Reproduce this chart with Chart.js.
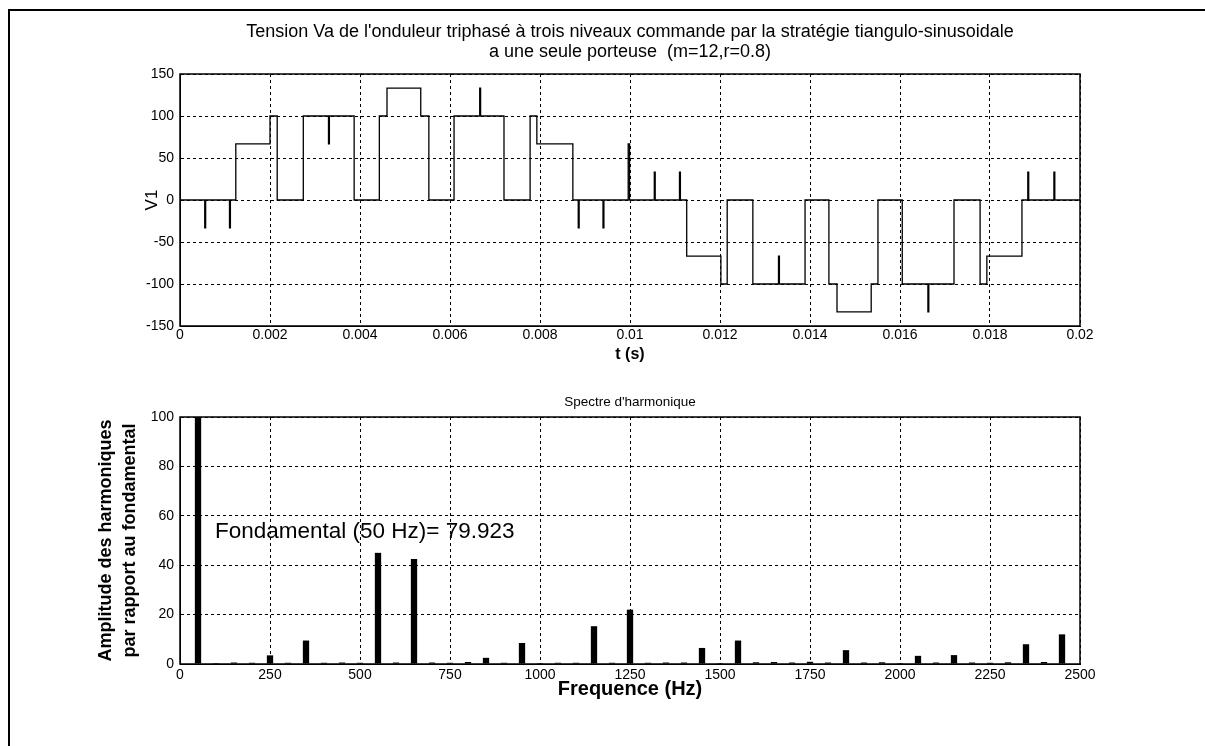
<!DOCTYPE html>
<html>
<head>
<meta charset="utf-8">
<script src="https://cdn.jsdelivr.net/npm/chart.js@4.4.1/dist/chart.umd.min.js"></script>
<style>
  body { margin: 0; background: #fff; overflow: hidden; }
  #cadre { position: absolute; left: 8px; top: 9px; width: 1300px; height: 800px; border-left: 2px solid #000; border-top: 2px solid #000; }
  canvas { position: absolute; left: 0; }
  #c1 { top: 0; }
  #c2 { top: 370px; }
</style>
</head>
<body>
<div id="cadre"></div>
<canvas id="c1" width="1205" height="370"></canvas>
<canvas id="c2" width="1205" height="376"></canvas>
<script>
// tension Va : instants de commutation (s) et niveau atteint (V)
const tCommut = [0, 0.00055, 0.00057, 0.0011, 0.00112, 0.00124, 0.002, 0.00216, 0.00274, 0.0033, 0.00332,
  0.00387, 0.00443, 0.0046, 0.00535, 0.00553, 0.00609, 0.00666, 0.00668, 0.0072, 0.00778, 0.00793,
  0.00873, 0.00885, 0.00887, 0.0094, 0.00942, 0.00996, 0.00999, 0.01054, 0.01056, 0.0111, 0.01112,
  0.01126, 0.01202, 0.01216, 0.01273, 0.0133, 0.01332, 0.01389, 0.01442, 0.0146, 0.01536, 0.01551,
  0.01605, 0.01662, 0.01664, 0.0172, 0.01778, 0.01793, 0.01871, 0.01884, 0.01886, 0.01942, 0.01944, 0.02];
const vNiveau = [0, -33.3, 0, -33.3, 0, 66.7, 100, 0, 100, 66.7, 100,
  0, 100, 133.3, 100, 0, 100, 133.3, 100, 0, 100, 66.7,
  0, -33.3, 0, -33.3, 0, 66.7, 0, 33.3, 0, 33.3, 0,
  -66.7, -100, 0, -100, -66.7, -100, 0, -100, -133.3, -100, 0,
  -100, -133.3, -100, 0, -100, -66.7, 0, 33.3, 0, 33.3, 0, 0];
const tLabels = ["0", "0.002", "0.004", "0.006", "0.008", "0.01", "0.012", "0.014", "0.016", "0.018", "0.02"];

// spectre : frequences (Hz) et amplitudes en % du fondamental
const freqs = [50, 100, 150, 200, 250, 300, 350, 400, 450, 500, 550, 600, 650, 700, 750, 800, 850, 900, 950, 1000,
  1050, 1100, 1150, 1200, 1250, 1300, 1350, 1400, 1450, 1500, 1550, 1600, 1650, 1700, 1750, 1800, 1850, 1900,
  1950, 2000, 2050, 2100, 2150, 2200, 2250, 2300, 2350, 2400, 2450];
const amplitudes = [100, 0.4, 0.6, 0.5, 3.5, 0.5, 9.5, 0.5, 0.6, 0.5, 45, 0.6, 42.5, 0.6, 0.5, 0.8, 2.5, 0.5, 8.5, 0.4,
  0.5, 0.5, 15.3, 0.5, 22, 0.5, 0.6, 0.6, 6.5, 0.4, 9.5, 0.7, 0.8, 0.6, 0.9, 0.6, 5.6, 0.6,
  0.7, 0.4, 3.3, 0.6, 3.6, 0.6, 0.5, 0.7, 8, 0.8, 12];
const fLabels = ["0", "250", "500", "750", "1000", "1250", "1500", "1750", "2000", "2250", "2500"];
const fondamental = "Fondamental (50 Hz)= 79.923";

const police = "'Liberation Sans', Arial, sans-serif";

// cadre plein autour de la zone de trace + titre centre sur cette zone
function cadreAxes(titre, taille, yTitre) {
  return {
    id: "cadreAxes",
    afterDraw(chart) {
      const a = chart.chartArea;
      const ctx = chart.ctx;
      ctx.save();
      ctx.strokeStyle = "#000";
      ctx.lineWidth = 1.5;
      ctx.strokeRect(a.left, a.top, a.right - a.left, a.bottom - a.top);
      ctx.fillStyle = "#000";
      ctx.font = taille + "px " + police;
      ctx.textAlign = "center";
      ctx.textBaseline = "middle";
      titre.forEach((ligne, i) => ctx.fillText(ligne, (a.left + a.right) / 2, yTitre + i * 20));
      ctx.restore();
    }
  };
}

function grille() {
  return { color: "#000", lineWidth: 1, drawTicks: false, offset: false };
}

// graphe du haut
new Chart(document.getElementById("c1"), {
  type: "line",
  data: {
    datasets: [{
      data: tCommut.map((t, i) => ({ x: t, y: vNiveau[i] })),
      stepped: true,
      borderColor: "#000",
      borderWidth: 1.3,
      pointRadius: 0,
      fill: false
    }]
  },
  options: {
    responsive: false,
    animation: false,
    layout: { padding: { left: 130, right: 125, top: 74, bottom: 0 } },
    plugins: { legend: { display: false }, tooltip: { enabled: false } },
    scales: {
      x: {
        type: "linear", min: 0, max: 0.02,
        afterFit(s) { s.height = 44; },
        ticks: { stepSize: 0.002, autoSkip: false, maxRotation: 0, padding: 1, color: "#000",
          font: { family: police, size: 14 }, callback: (v, i) => tLabels[i] },
        grid: grille(),
        border: { color: "#000", dash: [3, 3] },
        title: { display: true, text: "t (s)", color: "#000", padding: { top: 0, bottom: 6 },
          font: { family: police, size: 16, weight: "bold" } }
      },
      y: {
        min: -150, max: 150,
        afterFit(s) { s.width = 50; },
        ticks: { stepSize: 50, padding: 6, color: "#000", font: { family: police, size: 14 } },
        grid: grille(),
        border: { color: "#000", dash: [3, 3] },
        title: { display: true, text: "V1", color: "#000", padding: { top: 12, bottom: 0 },
          font: { family: police, size: 17, weight: "normal" } }
      }
    }
  },
  plugins: [cadreAxes(["Tension Va de l'onduleur triphasé à trois niveaux commande par la stratégie tiangulo-sinusoidale",
    "a une seule porteuse  (m=12,r=0.8)"], 18, 32)]
});

// annotation du fondamental
const texteFondamental = {
  id: "texteFondamental",
  afterDatasetsDraw(chart) {
    const ctx = chart.ctx;
    const x = chart.scales.x.getPixelForValue(97);
    const y = chart.scales.y.getPixelForValue(53.5);
    ctx.save();
    ctx.fillStyle = "#000";
    ctx.font = "22.5px " + police;
    ctx.textAlign = "left";
    ctx.textBaseline = "middle";
    ctx.fillText(fondamental, x, y);
    ctx.restore();
  }
};

// graphe du bas
new Chart(document.getElementById("c2"), {
  type: "bar",
  data: {
    datasets: [{
      data: freqs.map((f, i) => ({ x: f, y: amplitudes[i] })),
      backgroundColor: "#000",
      borderWidth: 0,
      barPercentage: 0.35,
      categoryPercentage: 1
    }]
  },
  options: {
    responsive: false,
    animation: false,
    layout: { padding: { left: 80, right: 125, top: 47, bottom: 42 } },
    plugins: { legend: { display: false }, tooltip: { enabled: false } },
    scales: {
      x: {
        type: "linear", min: 0, max: 2500, offset: false,
        afterFit(s) { s.height = 40; },
        ticks: { stepSize: 250, autoSkip: false, maxRotation: 0, padding: 3, color: "#000",
          font: { family: police, size: 14 }, callback: (v, i) => fLabels[i] },
        grid: grille(),
        border: { color: "#000", dash: [3, 3] },
        title: { display: true, text: "Frequence (Hz)", color: "#000", padding: { top: 0, bottom: 3 },
          font: { family: police, size: 20, weight: "bold" } }
      },
      y: {
        min: 0, max: 100,
        afterFit(s) { s.width = 100; },
        ticks: { stepSize: 20, padding: 6, color: "#000", font: { family: police, size: 14 } },
        grid: grille(),
        border: { color: "#000", dash: [3, 3] },
        title: { display: true, text: ["Amplitude des harmoniques", "par rapport au fondamental"], color: "#000",
          padding: { top: 15, bottom: 0 },
          font: { family: police, size: 18, weight: "bold", lineHeight: 1.28 } }
      }
    }
  },
  plugins: [cadreAxes(["Spectre d'harmonique"], 13.5, 32), texteFondamental]
});
</script>
</body>
</html>
